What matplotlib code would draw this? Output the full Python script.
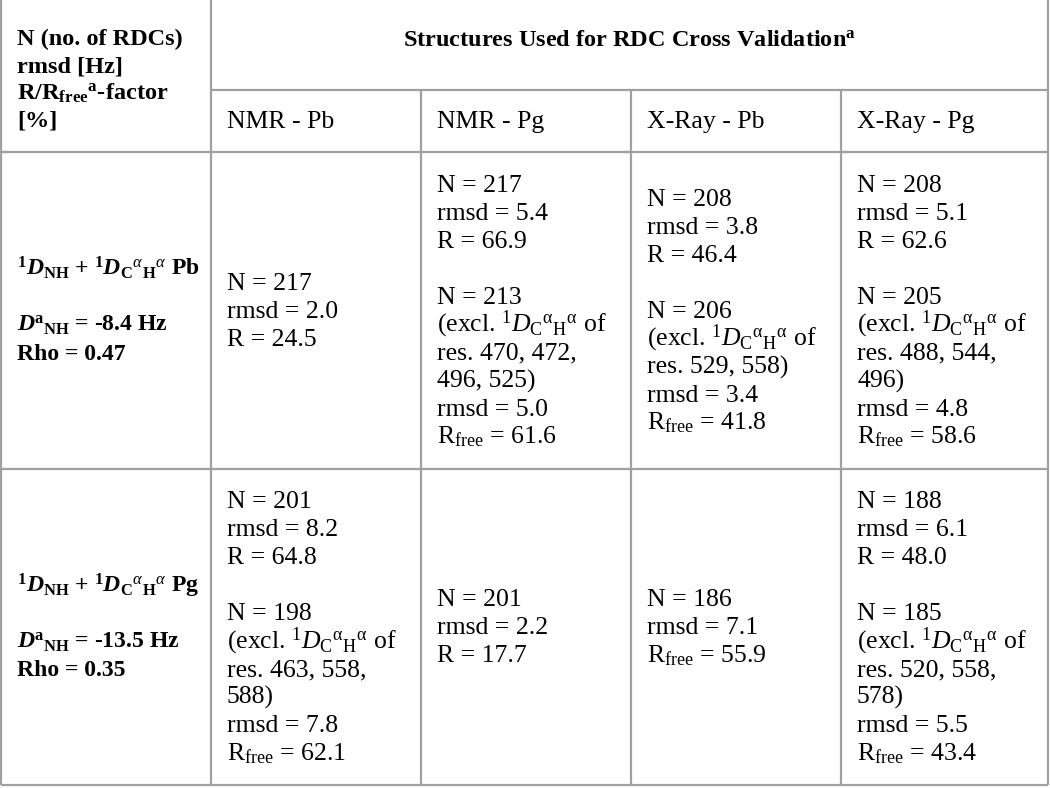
import matplotlib
matplotlib.use('Agg')
import matplotlib.pyplot as plt

plt.rcParams['font.family'] = ['Liberation Serif', 'DejaVu Serif']
plt.rcParams['mathtext.fontset'] = 'custom'
plt.rcParams['mathtext.rm'] = 'Liberation Serif'
plt.rcParams['mathtext.it'] = 'Liberation Serif:italic'
plt.rcParams['mathtext.bf'] = 'Liberation Serif:bold'
plt.rcParams['mathtext.bfit'] = 'Liberation Serif:italic:bold'

# ---- table content ----
EXCL = (r'(excl. $^{1}\mathit{D}_{\mathrm{C}}{}^{\mathrm{\alpha}}'
        r'{}_{\mathrm{H}}{}^{\mathrm{\alpha}}$ of')
RF = r'R$_{\mathrm{free}}$'

corner_lines = ['N (no. of RDCs)', 'rmsd [Hz]',
                r'R/R$_{\mathbf{free}}$$^{\mathbf{a}}$-factor', '[%]']
title = r'Structures Used for RDC Cross Validation$^{\mathbf{a}}$'
col_headers = ['NMR - Pb', 'NMR - Pg', 'X-Ray - Pb', 'X-Ray - Pg']

LABEL_D = (r'$^{\mathbf{1}}\mathbfit{D}_{\mathbf{NH}}$ + '
           r'$^{\mathbf{1}}\mathbfit{D}_{\mathbf{C}}{}^{\alpha}{}_{\mathbf{H}}{}^{\alpha}$')
row_labels = [
    [LABEL_D + ' Pb', '', r'$\mathbfit{D}^{\mathbf{a}}{}_{\mathbf{NH}}$ = -8.4 Hz', 'Rho = 0.47'],
    [LABEL_D + ' Pg', '', r'$\mathbfit{D}^{\mathbf{a}}{}_{\mathbf{NH}}$ = -13.5 Hz', 'Rho = 0.35'],
]

cells_pb = [
    ['N = 217', 'rmsd = 2.0', 'R = 24.5'],
    ['N = 217', 'rmsd = 5.4', 'R = 66.9', '', 'N = 213', EXCL,
     'res. 470, 472,', '496, 525)', 'rmsd = 5.0', RF + ' = 61.6'],
    ['N = 208', 'rmsd = 3.8', 'R = 46.4', '', 'N = 206', EXCL,
     'res. 529, 558)', 'rmsd = 3.4', RF + ' = 41.8'],
    ['N = 208', 'rmsd = 5.1', 'R = 62.6', '', 'N = 205', EXCL,
     'res. 488, 544,', '496)', 'rmsd = 4.8', RF + ' = 58.6'],
]
cells_pg = [
    ['N = 201', 'rmsd = 8.2', 'R = 64.8', '', 'N = 198', EXCL,
     'res. 463, 558,', '588)', 'rmsd = 7.8', RF + ' = 62.1'],
    ['N = 201', 'rmsd = 2.2', 'R = 17.7'],
    ['N = 186', 'rmsd = 7.1', RF + ' = 55.9'],
    ['N = 188', 'rmsd = 6.1', 'R = 48.0', '', 'N = 185', EXCL,
     'res. 520, 558,', '578)', 'rmsd = 5.5', RF + ' = 43.4'],
]
body = [cells_pb, cells_pg]

# ---- layout (pixel grid) ----
col_x = [1, 211, 421, 631, 841, 1048]
row_y = [0, 90, 152, 469, 785]
PAD = 16
LH = 28
FS = 18.5
FS_B = 17.5
FS_LAB = 17
LINE_C = '#a0a0a0'

fig = plt.figure(figsize=(10.5, 7.88), dpi=100)
ax = fig.add_axes([0, 0, 1, 1])
ax.set_xlim(0, 1050)
ax.set_ylim(788, 0)
ax.axis('off')


def draw_lines(x, yc, lines, lh=LH, fs=FS, **kw):
    n = len(lines)
    for i, s in enumerate(lines):
        if not s:
            continue
        y = yc + (i - (n - 1) / 2) * lh + 7
        ax.text(x, y, s, fontsize=fs, va='baseline', ha='left', color='black', **kw)


# grid lines
ax.vlines([col_x[0], col_x[1], col_x[-1]], row_y[0], row_y[-1], color=LINE_C, lw=1.6)
ax.vlines(col_x[2:-1], row_y[1], row_y[-1], color=LINE_C, lw=1.6)
ax.hlines(row_y[1], col_x[1], col_x[-1], color=LINE_C, lw=1.6)
ax.hlines(row_y[2:], col_x[0], col_x[-1], color=LINE_C, lw=1.6)

# header
draw_lines(col_x[0] + PAD, (row_y[0] + row_y[2]) / 2 + 3, corner_lines, lh=27, fs=FS_B,
           fontweight='bold')
ax.text((col_x[1] + col_x[-1]) / 2, (row_y[0] + row_y[1]) / 2 + 1, title,
        fontsize=FS_B, fontweight='bold', ha='center', va='baseline')
for j, h in enumerate(col_headers):
    draw_lines(col_x[j + 1] + PAD, (row_y[1] + row_y[2]) / 2, [h])

# body
for r in range(2):
    yc = (row_y[r + 2] + row_y[r + 3]) / 2
    draw_lines(col_x[0] + PAD, yc, row_labels[r], fs=FS_LAB, fontweight='bold')
    for j in range(4):
        draw_lines(col_x[j + 1] + PAD, yc, body[r][j])

fig.savefig('out.png', dpi=100)
